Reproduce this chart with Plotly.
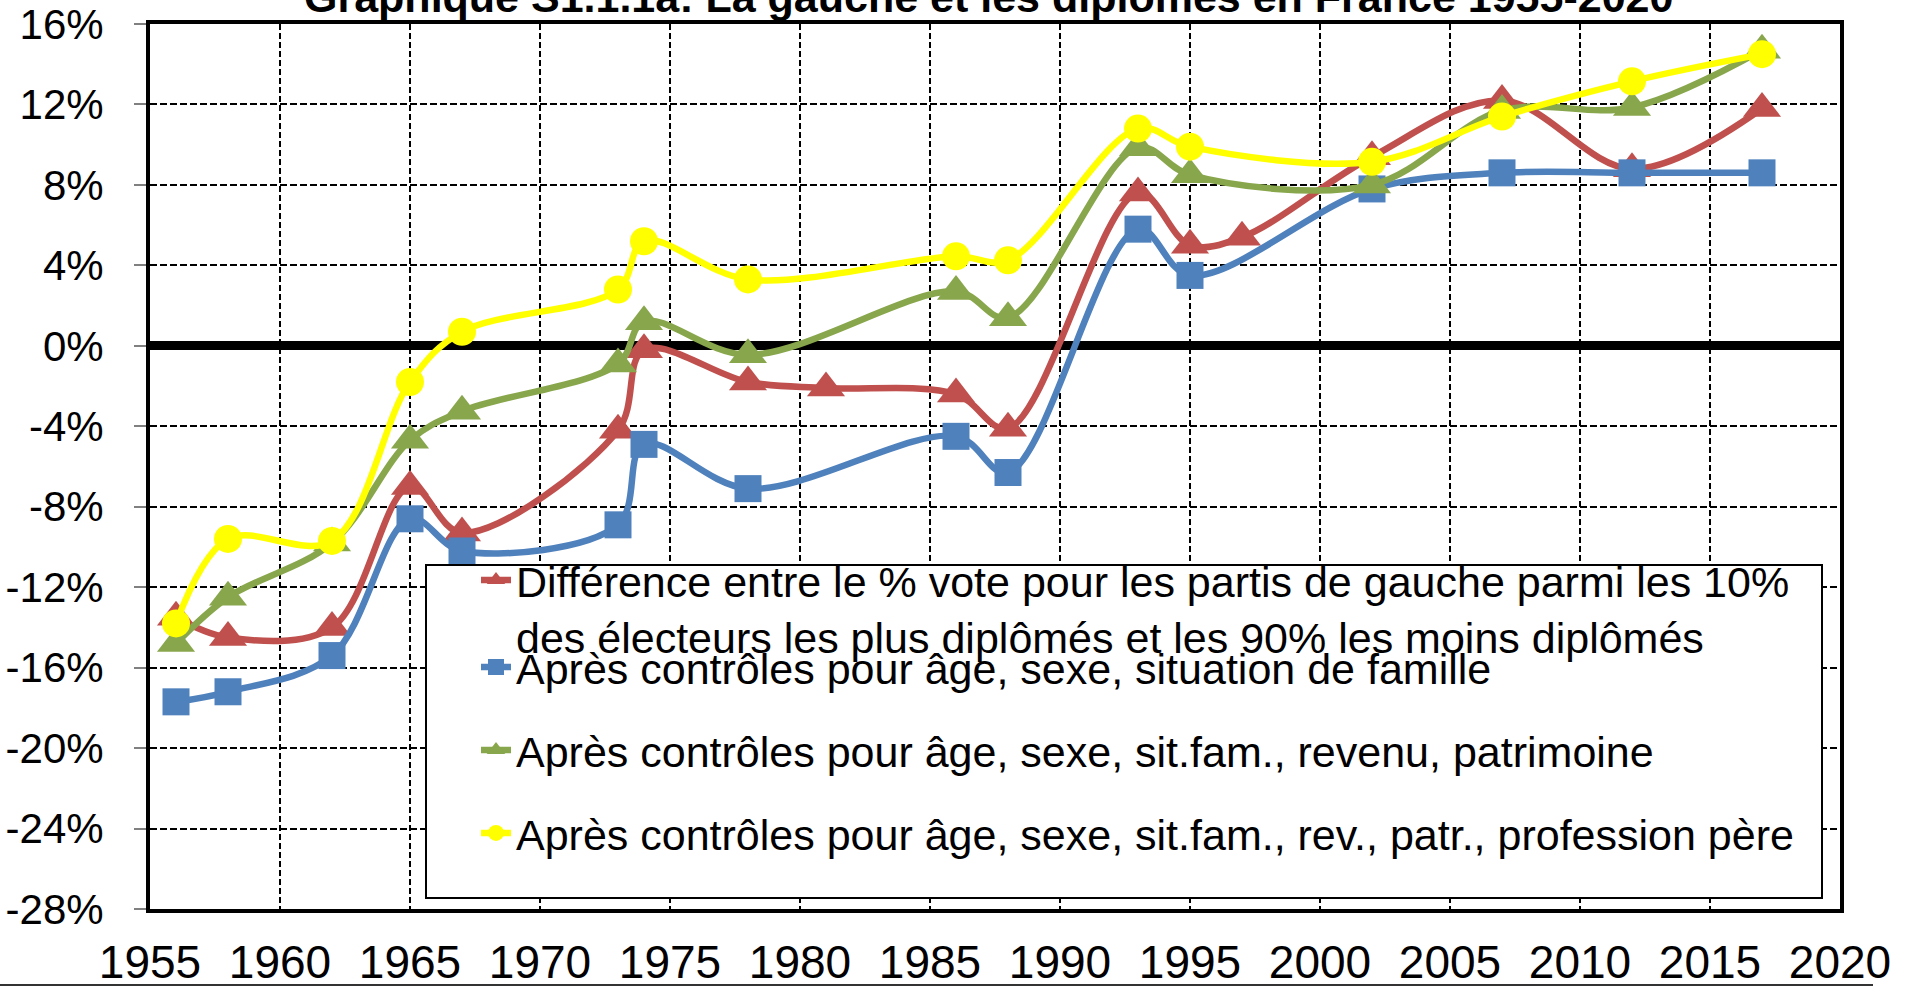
import plotly.graph_objects as go

# ---------------- data (percentage points) ----------------
years_red = [1956, 1958, 1962, 1965, 1967, 1973, 1974, 1978, 1981, 1986, 1988,
             1993, 1995, 1997, 2002, 2007, 2012, 2017]
diff_raw = [-13.5, -14.5, -14.0, -7.0, -9.3, -4.2, -0.2, -1.8, -2.1, -2.4, -4.1,
            7.6, 5.0, 5.4, 9.4, 12.2, 8.8, 11.8]

years_ctrl = [1956, 1958, 1962, 1965, 1967, 1973, 1974, 1978, 1986, 1988,
              1993, 1995, 2002, 2007, 2012, 2017]
ctrl_age = [-17.7, -17.2, -15.4, -8.6, -10.2, -8.9, -4.9, -7.1, -4.5, -6.3,
            5.8, 3.5, 7.8, 8.6, 8.6, 8.6]
ctrl_income = [-14.8, -12.5, -9.8, -4.7, -3.25, -0.9, 1.2, -0.45, 2.7, 1.4,
               9.85, 8.5, 8.0, 11.7, 11.85, 14.7]
ctrl_father = [-13.8, -9.6, -9.7, -1.8, 0.7, 2.8, 5.2, 3.3, 4.45, 4.25,
               10.8, 9.9, 9.15, 11.4, 13.15, 14.5]

names = [
    "Différence entre le % vote pour les partis de gauche parmi les 10%<br>"
    "des électeurs les plus diplômés et les 90% les moins diplômés",
    "Après contrôles pour âge, sexe, situation de famille",
    "Après contrôles pour âge, sexe, sit.fam., revenu, patrimoine",
    "Après contrôles pour âge, sexe, sit.fam., rev., patr., profession père",
]

x_tickvals = [1955, 1960, 1965, 1970, 1975, 1980, 1985, 1990, 1995, 2000, 2005, 2010, 2015, 2020]
x_ticktext = [str(v) for v in x_tickvals]
y_tickvals = [16, 12, 8, 4, 0, -4, -8, -12, -16, -20, -24, -28]
y_ticktext = ["16%", "12%", "8%", "4%", "0%", "-4%", "-8%", "-12%", "-16%", "-20%", "-24%", "-28%"]

title_text = "Graphique S1.1.1a: La gauche et les diplômés en France 1955-2020"

# ---------------- layout helpers (pixel -> paper) ----------------
W, H = 1913, 989
L, R, T, B = 150, 1840, 24, 909


def pxx(p):
    return (p - L) / (R - L)


def pxy(p):
    return (B - p) / (B - T)


fig = go.Figure()

series = [
    (years_red, diff_raw, "#C0504D", "triangle-up", 33, "legend"),
    (years_ctrl, ctrl_age, "#4F81BD", "square", 27, "legend2"),
    (years_ctrl, ctrl_income, "#88A64B", "triangle-up", 33, "legend3"),
    (years_ctrl, ctrl_father, "#FFFF00", "circle", 28, "legend4"),
]

for (xs, ys, col, sym, sz, leg), nm in zip(series, names):
    fig.add_trace(go.Scatter(
        x=xs, y=ys, name=nm, mode="lines+markers",
        line=dict(color=col, width=6.5, shape="spline", smoothing=1.0),
        marker=dict(color=col, symbol=sym, size=sz, line=dict(width=0)),
        legend=leg, cliponaxis=False,
    ))

leg_common = dict(
    xanchor="left", yanchor="middle", bgcolor="rgba(0,0,0,0)",
    borderwidth=0, font=dict(size=43, color="black"),
)
legend_x = pxx(476)

fig.update_layout(
    width=W, height=H,
    margin=dict(l=L, r=W - R, t=T, b=H - B, autoexpand=False),
    paper_bgcolor="white", plot_bgcolor="white",
    font=dict(family="Liberation Sans, Arial, sans-serif", color="black"),
    showlegend=True,
    legend=dict(x=legend_x, y=pxy(608), valign="top", **leg_common),
    legend2=dict(x=legend_x, y=pxy(667), **leg_common),
    legend3=dict(x=legend_x, y=pxy(750), **leg_common),
    legend4=dict(x=legend_x, y=pxy(833), **leg_common),
    xaxis=dict(
        range=[1955, 2020], tickvals=x_tickvals, ticktext=x_ticktext,
        showgrid=True, gridcolor="black", gridwidth=2, griddash="6px,3px",
        showline=True, linecolor="black", linewidth=4, mirror=True,
        ticks="", tickfont=dict(size=46), ticklabelstandoff=10,
        zeroline=False, automargin=False,
    ),
    yaxis=dict(
        range=[-28, 16], tickvals=y_tickvals, ticktext=y_ticktext,
        showgrid=True, gridcolor="black", gridwidth=2, griddash="7px,3px",
        zeroline=True, zerolinecolor="black", zerolinewidth=9,
        showline=True, linecolor="black", linewidth=4, mirror=True,
        ticks="outside", ticklen=12, tickcolor="#808080", tickwidth=2,
        tickfont=dict(size=42), ticklabelstandoff=22, automargin=False,
    ),
    annotations=[
        dict(text="<b>" + title_text + "</b>", xref="paper", yref="paper",
             x=pxx(988), y=pxy(-3), xanchor="center", yanchor="middle",
             showarrow=False, font=dict(size=43, color="black")),
    ],
    shapes=[
        dict(type="rect", xref="paper", yref="paper",
             x0=pxx(426), x1=pxx(1822), y0=pxy(898), y1=pxy(565),
             line=dict(color="black", width=2), fillcolor="white", layer="above"),
        dict(type="line", xref="paper", yref="paper",
             x0=pxx(0), x1=pxx(1873), y0=pxy(985), y1=pxy(985),
             line=dict(color="#333333", width=2)),
    ],
)

fig.write_html("out.html", config={"displayModeBar": False},
               post_script="document.body.style.margin='0px';")
